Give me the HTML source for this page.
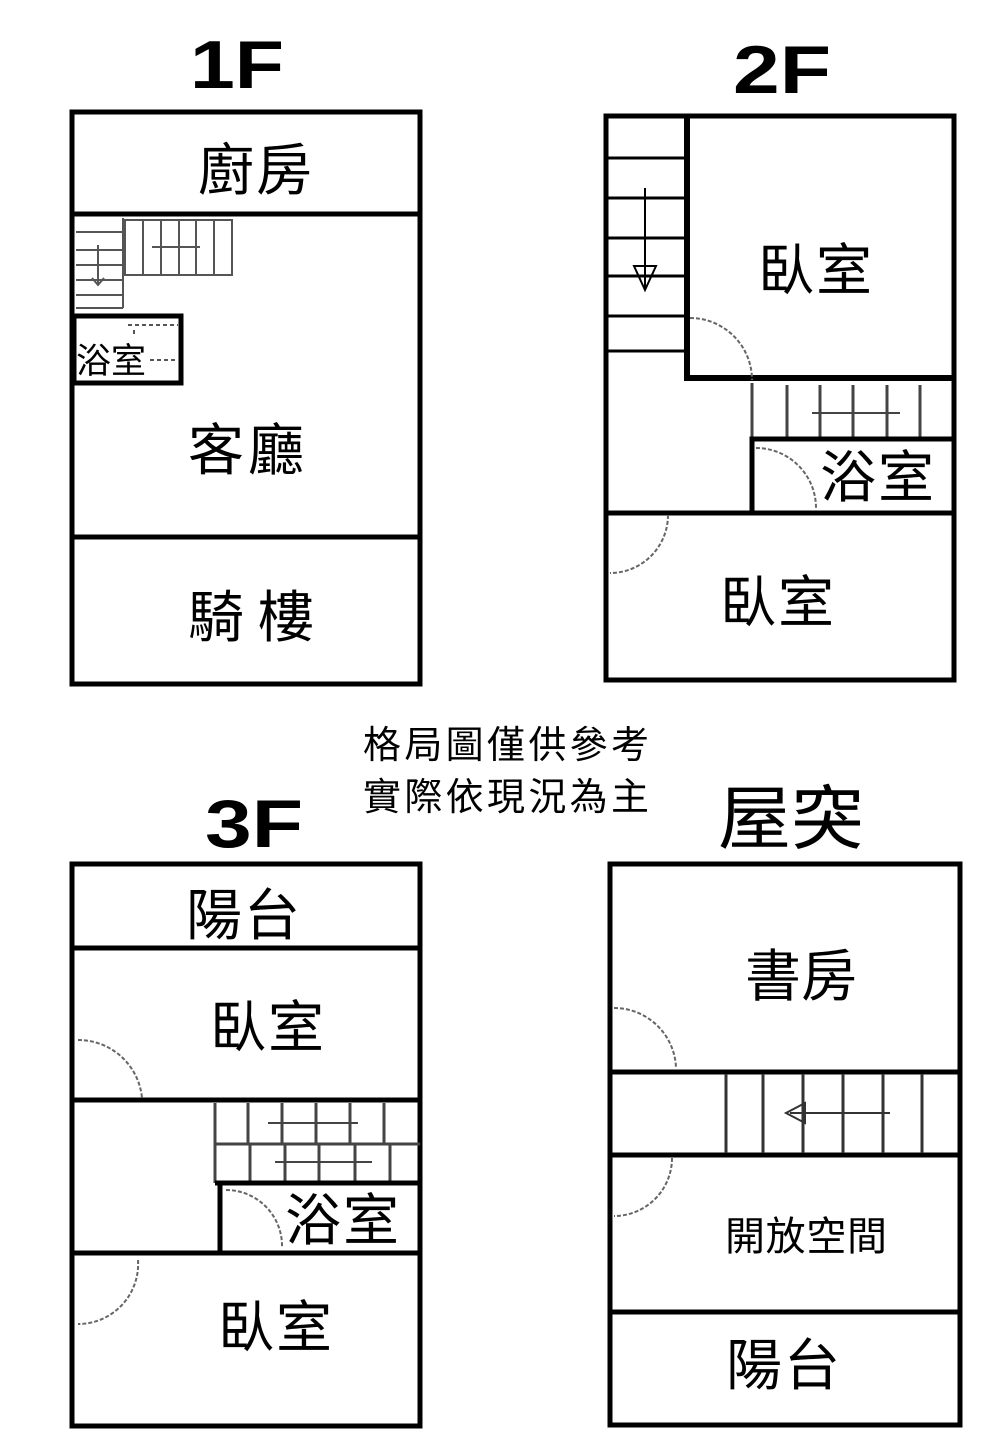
<!DOCTYPE html>
<html><head><meta charset="utf-8"><style>
body{margin:0;background:#fff}
svg{display:block}
text{font-family:"Liberation Sans","Noto Sans CJK TC",sans-serif;fill:#000}
.t{font-weight:bold;font-size:68px}
.r{font-size:56px}
</style></head><body>
<svg width="1000" height="1440" viewBox="0 0 1000 1440" xmlns="http://www.w3.org/2000/svg">
<g fill="none" stroke="#000">
<!-- 1F -->
<rect x="72" y="112" width="348" height="572" stroke-width="5"/>
<line x1="72" y1="214" x2="420" y2="214" stroke-width="5"/>
<line x1="72" y1="537" x2="420" y2="537" stroke-width="5"/>
<g stroke-width="2" stroke="#555">
<path d="M123 218V308M76 308H123M76 232H123M76 250H123M76 265H123M76 280H123M76 295H123"/>
<rect x="125" y="220" width="107" height="55"/>
<path d="M143 220V275M161 220V275M179 220V275M196 220V275M214 220V275M152 247H200"/>
<path d="M98 245V285M92 278L98 285L104 278"/>
<path d="M128 325H178M134 330V336M150 360H175" stroke-dasharray="4 3"/>
</g>
<rect x="74" y="316" width="107" height="67" stroke-width="5"/>
<!-- 2F -->
<rect x="606" y="116" width="348" height="564" stroke-width="5"/>
<path d="M687 116V378H954" stroke-width="6"/>
<path d="M606 158H686M606 198H686M606 238H686M606 276H686M606 316H686M606 351H686" stroke-width="3"/>
<path d="M645 188V290" stroke-width="2"/>
<path d="M634 266H656L645 290Z" stroke-width="2"/>
<g stroke-width="3" stroke="#444"><path d="M752 383V437M787 385V437M820 385V437M853 385V437M887 385V437M920 385V437"/>
<path d="M812 413H900" stroke-width="2"/></g>
<rect x="752" y="439" width="202" height="74" stroke-width="5"/>
<line x1="606" y1="513" x2="954" y2="513" stroke-width="5"/>
<g stroke="#666" stroke-width="2" stroke-dasharray="4 2">
<path d="M690 318A62 62 0 0 1 752 380"/>
<path d="M756 448A60 60 0 0 1 816 508"/>
<path d="M668 515A58 58 0 0 1 610 573"/>
</g>
<!-- 3F -->
<rect x="72" y="864" width="348" height="562" stroke-width="5"/>
<line x1="72" y1="948" x2="420" y2="948" stroke-width="5"/>
<line x1="72" y1="1100" x2="420" y2="1100" stroke-width="5"/>
<line x1="72" y1="1253" x2="420" y2="1253" stroke-width="5"/>
<g stroke-width="3" stroke="#444"><path d="M215 1103V1183M248 1103V1143M282 1103V1143M316 1103V1143M350 1103V1143M384 1103V1143M250 1145V1183M285 1145V1183M319 1145V1183M355 1145V1183M390 1145V1183M215 1144H420"/>
<path d="M268 1123H358M275 1162H372" stroke-width="2"/></g>
<line x1="215" y1="1183" x2="420" y2="1183" stroke-width="5"/>
<line x1="220" y1="1183" x2="220" y2="1253" stroke-width="5"/>
<g stroke="#666" stroke-width="2" stroke-dasharray="4 2">
<path d="M78 1040A64 64 0 0 1 142 1098"/>
<path d="M226 1190A56 56 0 0 1 282 1248"/>
<path d="M138 1260A60 60 0 0 1 78 1324"/>
<path d="M614 1008A62 62 0 0 1 676 1068"/>
<path d="M672 1158A58 58 0 0 1 614 1216"/>
</g>
<!-- Roof -->
<rect x="610" y="864" width="350" height="561" stroke-width="5"/>
<line x1="610" y1="1072" x2="960" y2="1072" stroke-width="5"/>
<line x1="610" y1="1155" x2="960" y2="1155" stroke-width="5"/>
<line x1="610" y1="1312" x2="960" y2="1312" stroke-width="5"/>
<g stroke-width="3" stroke="#333"><path d="M726 1074V1153M763 1074V1153M803 1074V1153M843 1074V1153M883 1074V1153M922 1074V1153"/>
<path d="M790 1113H890" stroke-width="2"/><path d="M805 1103L786 1113L805 1123Z" stroke-width="2"/></g>
</g>
<text class="t" x="190" y="88" textLength="94" lengthAdjust="spacingAndGlyphs">1F</text>
<text class="t" x="733" y="93" textLength="98" lengthAdjust="spacingAndGlyphs">2F</text>
<text class="t" x="205" y="847" textLength="98" lengthAdjust="spacingAndGlyphs">3F</text>
<text x="718" y="843" style="font-size:70px" textLength="146" lengthAdjust="spacingAndGlyphs">屋突</text>
<text class="r" x="198" y="190" textLength="114">廚房</text>
<text x="76" y="373" style="font-size:35px">浴室</text>
<text class="r" x="188" y="470" textLength="116">客廳</text>
<text class="r" x="188" y="637" textLength="126">騎樓</text>
<text class="r" x="758" y="290" textLength="114">臥室</text>
<text class="r" x="820" y="497" textLength="114">浴室</text>
<text class="r" x="720" y="622" textLength="114">臥室</text>
<text class="r" x="186" y="935" textLength="114">陽台</text>
<text class="r" x="210" y="1047" textLength="114">臥室</text>
<text class="r" x="285" y="1240" textLength="114">浴室</text>
<text class="r" x="218" y="1347" textLength="114">臥室</text>
<text class="r" x="745" y="996" textLength="112">書房</text>
<text x="725" y="1250" style="font-size:40px" textLength="162">開放空間</text>
<text class="r" x="726" y="1385" textLength="114">陽台</text>
<text x="363" y="758" style="font-size:38px" textLength="286">格局圖僅供參考</text>
<text x="363" y="810" style="font-size:38px" textLength="286">實際依現況為主</text>
</svg>
</body></html>
